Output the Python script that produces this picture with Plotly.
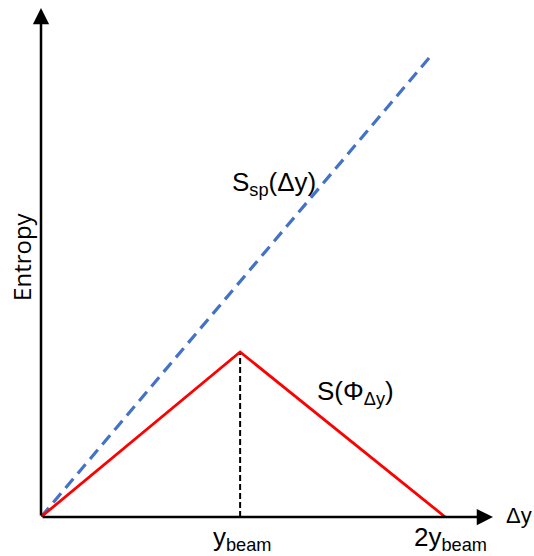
import plotly.graph_objects as go

# Data (x in units of y_beam, y arbitrary entropy units)
x_sp = [0.0, 1.95]
y_sp = [0.0, 2.31]
x_s = [0.0, 1.0, 2.03]
y_s = [0.0, 0.83, 0.0]
x_peak = [1.0, 1.0]
y_peak = [0.0, 0.83]
x_max = 2.27
y_max = 2.56

fig = go.Figure()
fig.add_trace(go.Scatter(x=x_sp, y=y_sp, mode="lines",
                         line=dict(color="#4472C4", width=3.2, dash="12px,7px"),
                         showlegend=False, hoverinfo="skip"))
fig.add_trace(go.Scatter(x=x_peak, y=y_peak, mode="lines",
                         line=dict(color="black", width=2, dash="6px,3px"),
                         showlegend=False, hoverinfo="skip"))
fig.add_trace(go.Scatter(x=x_s, y=y_s, mode="lines",
                         line=dict(color="#FF0000", width=2.8),
                         showlegend=False, hoverinfo="skip"))

font = "Liberation Sans, Arial, sans-serif"
ann = []
# axes arrows
ann.append(dict(x=x_max, y=0, ax=0, ay=0, xref="x", yref="y", axref="x", ayref="y",
                showarrow=True, arrowhead=2, arrowsize=1.3, arrowwidth=2.5,
                arrowcolor="black", text=""))
ann.append(dict(x=0, y=y_max, ax=0, ay=0, xref="x", yref="y", axref="x", ayref="y",
                showarrow=True, arrowhead=2, arrowsize=1.3, arrowwidth=2.5,
                arrowcolor="black", text=""))
tf = dict(family=font, size=26, color="black")


def label(x, y, text, xanchor="center", **kw):
    d = dict(x=x, y=y, xref="paper", yref="paper", text=text, showarrow=False,
             xanchor=xanchor, yanchor="middle", font=kw.pop("font", tf))
    d.update(kw)
    ann.append(d)


label(-0.042, 0.511, "Entropy", textangle=-90,
      font=dict(family="Open Sans, sans-serif", size=24, color="black"))
label(1.025, 0.002, "Δy", xanchor="left", font=dict(family=font, size=22, color="black"))
label(0.445, -0.042, "y<sub>beam</sub>")
label(0.905, -0.042, "2y<sub>beam</sub>")
label(0.515, 0.656, "S<sub>sp</sub>(Δy)")
label(0.695, 0.244, "S(Φ<sub>Δy</sub>)")

fig.update_layout(
    width=534, height=556,
    margin=dict(l=41, r=41, t=8, b=39),
    plot_bgcolor="white", paper_bgcolor="white",
    xaxis=dict(range=[0, x_max], visible=False, fixedrange=True),
    yaxis=dict(range=[0, y_max], visible=False, fixedrange=True),
    annotations=ann,
)
fig.write_html(
    "out.html",
    config={"displayModeBar": False, "staticPlot": True},
    post_script="document.body.style.margin='0';"
                "document.body.style.overflow='hidden';"
                "document.documentElement.style.overflow='hidden';",
)
